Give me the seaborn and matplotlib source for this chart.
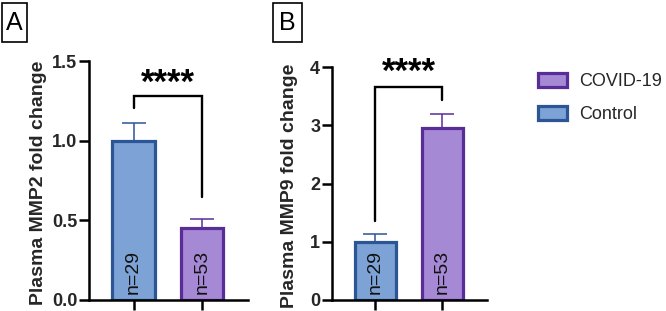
import matplotlib
matplotlib.use("Agg")
import matplotlib.pyplot as plt
from matplotlib.patches import Rectangle, Patch
import seaborn as sns
import pandas as pd

groups = ["Control", "COVID-19"]
n_labels = ["n=29", "n=53"]
mmp2_mean = [1.00, 0.45]
mmp2_sem = [0.113, 0.056]
mmp9_mean = [1.00, 2.95]
mmp9_sem = [0.13, 0.25]

fill_colors = {"Control": "#7DA2D6", "COVID-19": "#A689D5"}
edge_colors = {"Control": "#2C5596", "COVID-19": "#5A2C98"}

sns.set_theme(style="ticks")
plt.rcParams["font.family"] = ["Liberation Sans", "DejaVu Sans"]

fig = plt.figure(figsize=(6.66, 3.11), dpi=100)

def panel(rect, means, sems, ylim, yticks, yticklabels, ylabel, label_x,
          bracket, stars_y):
    ax = fig.add_axes(rect)
    df = pd.DataFrame({"group": groups, "value": means})
    sns.barplot(data=df, x="group", y="value", hue="group", order=groups,
                palette=fill_colors, saturation=1, errorbar=None, width=0.62,
                linewidth=2.3, edgecolor="black", legend=False, ax=ax, zorder=3)
    for p, g in zip(ax.patches, groups):
        p.set_edgecolor(edge_colors[g])
    for i, g in enumerate(groups):
        ax.errorbar(i, means[i], yerr=[[0], [sems[i]]], fmt="none",
                    ecolor=edge_colors[g], elinewidth=1.1, capsize=8.5,
                    capthick=1.1, zorder=2)
        ax.text(i, ylim[1] * 0.025, n_labels[i], rotation=90, ha="center",
                va="bottom", fontsize=14, color="#111111", zorder=4)
    ax.set_xlim(-0.65, 1.67)
    ax.set_ylim(*ylim)
    ax.set_yticks(yticks)
    ax.set_yticklabels(yticklabels, fontsize=13, fontweight="bold")
    ax.set_xticks([0, 1])
    ax.set_xticklabels(["", ""])
    ax.set_xlabel("")
    ax.set_ylabel(ylabel, fontsize=14, fontweight="bold")
    ax.yaxis.set_label_coords(label_x, 0.49)
    for s in ["top", "right"]:
        ax.spines[s].set_visible(False)
    for s in ["left", "bottom"]:
        ax.spines[s].set_linewidth(1.8)
        ax.spines[s].set_color("black")
    ax.tick_params(axis="both", length=7, width=1.8, color="black", pad=1.5)
    ax.spines["bottom"].set_zorder(5)
    top, l_bot, r_bot = bracket
    ax.plot([0, 0, 1, 1], [l_bot, top, top, r_bot], color="black", lw=1.7,
            solid_joinstyle="miter", clip_on=False)
    ax.text(0.5, stars_y, "****", ha="center", va="center", fontsize=25,
            fontweight="bold", color="black", clip_on=False)
    return ax

axA = panel([89 / 666, 11 / 311, 159 / 666, 239 / 311], mmp2_mean, mmp2_sem,
            (0, 1.5), [0, 0.5, 1.0, 1.5], ["0.0", "0.5", "1.0", "1.5"],
            "Plasma MMP2 fold change", -0.265, (1.28, 1.205, 0.647), 1.36)
axB = panel([332 / 666, 11 / 311, 155 / 666, 233 / 311], mmp9_mean, mmp9_sem,
            (0, 4), [0, 1, 2, 3, 4], ["0", "1", "2", "3", "4"],
            "Plasma MMP9 fold change", -0.22, (3.65, 1.36, 3.43), 3.90)

# panel labels with boxes
for x0, x1, lab in [(2, 27, "A"), (273, 302, "B")]:
    fig.patches.append(Rectangle((x0 / 666, 1 - 42 / 311), (x1 - x0) / 666, 39 / 311,
                                 transform=fig.transFigure, fill=False,
                                 edgecolor="black", linewidth=1.2))
    fig.text((x0 + x1) / 2 / 666, 1 - 22.5 / 311, lab, ha="center", va="center",
             fontsize=18, color="black")

handles = [Patch(facecolor=fill_colors[g], edgecolor=edge_colors[g], linewidth=2.3)
           for g in ["COVID-19", "Control"]]
fig.legend(handles, ["COVID-19", "Control"], loc="upper left",
           bbox_to_anchor=(538 / 666, 1 - 73 / 311), frameon=False,
           fontsize=13, handlelength=1.6, handleheight=0.85, handletextpad=0.7,
           labelspacing=0.85, borderpad=0, borderaxespad=0)

fig.savefig("out.png", dpi=100)
